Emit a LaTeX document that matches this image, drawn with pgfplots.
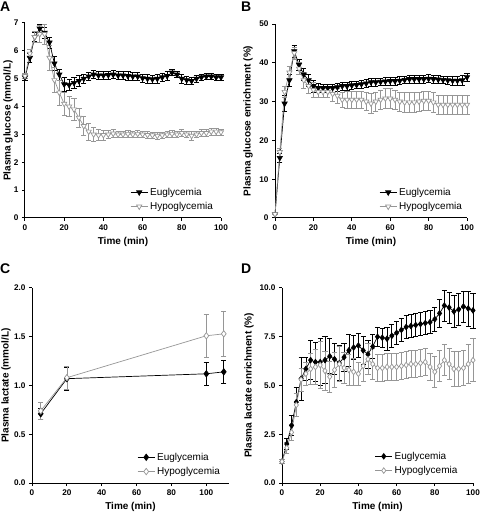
\documentclass[border=0pt]{standalone}
\usepackage{fontspec}
\setmainfont{Liberation Sans}
\usepackage{pgfplots}
\usepackage{pgfplotstable}
\pgfplotsset{compat=1.18}
\definecolor{hypogray}{RGB}{150,150,150}

\pgfplotstableread{
t v e
0 5.05 0.1
2.5 5.75 0.15
5 6.5 0.15
7.5 6.8 0.15
10 6.65 0.2
12.5 6.3 0.2
15 5.55 0.25
17.5 5.15 0.2
20 4.8 0.25
22.5 4.78 0.2
25 4.85 0.2
27.5 4.92 0.2
30 5.0 0.15
32.5 5.08 0.15
35 5.15 0.15
37.5 5.12 0.15
40 5.12 0.15
42.5 5.13 0.15
45 5.15 0.15
47.5 5.12 0.15
50 5.12 0.15
52.5 5.1 0.15
55 5.08 0.15
57.5 5.08 0.15
60 5.02 0.15
62.5 5.0 0.15
65 4.98 0.15
67.5 5.0 0.15
70 5.05 0.15
72.5 5.1 0.15
75 5.22 0.1
77.5 5.15 0.1
80 5.0 0.15
82.5 4.95 0.15
85 4.92 0.12
87.5 5.0 0.12
90 5.05 0.12
92.5 5.08 0.12
95 5.08 0.12
97.5 5.05 0.12
100 5.05 0.12
}\glcEu

\pgfplotstableread{
t v e
0 5.1 0.1
2.5 5.9 0.15
5 6.5 0.2
7.5 6.6 0.3
10 6.6 0.35
12.5 5.75 0.45
15 4.95 0.45
17.5 4.5 0.45
20 4.1 0.4
22.5 4.0 0.35
25 3.9 0.4
27.5 3.6 0.35
30 3.3 0.35
32.5 3.1 0.3
35 3.0 0.25
37.5 2.97 0.2
40 2.98 0.18
42.5 3.0 0.15
45 3.03 0.15
47.5 3.0 0.12
50 3.0 0.12
52.5 3.02 0.12
55 3.0 0.12
57.5 3.02 0.12
60 3.0 0.12
62.5 2.98 0.12
65 2.97 0.12
67.5 2.95 0.12
70 2.97 0.12
72.5 3.0 0.12
75 3.02 0.12
77.5 3.0 0.12
80 3.05 0.12
82.5 3.0 0.12
85 2.95 0.15
87.5 3.0 0.12
90 3.05 0.12
92.5 3.05 0.12
95 3.1 0.12
97.5 3.1 0.12
100 3.08 0.12
}\glcHypo

\pgfplotstableread{
t v e
0 1 0
2.5 15.5 1.2
5 29.5 2
7.5 35.5 1.5
10 43 1.5
12.5 39.5 1.5
15 37 1.5
17.5 35.5 1.5
20 34 1.5
22.5 33.5 1.2
25 33.5 1
27.5 33.5 1
30 33.5 1
32.5 33.7 1
35 34 1
37.5 34 1
40 34.2 1
42.5 34.3 1
45 34.5 1
47.5 34.7 1
50 35 1
52.5 35 1
55 35.1 1
57.5 35.2 1
60 35.3 1
62.5 35.3 1
65 35.4 1
67.5 35.6 1
70 35.8 1
72.5 35.8 1
75 35.8 1
77.5 35.8 1
80 35.9 1
82.5 35.8 1
85 35.7 1
87.5 35.6 1
90 35.5 1
92.5 35.4 1.2
95 35.4 1.2
97.5 35.5 1.2
100 36.3 1
}\enrEu

\pgfplotstableread{
t v e
0 1 0
2.5 17 1
5 32.5 1.5
7.5 37.5 1.5
10 42.5 1.5
12.5 38.5 1.5
15 35.5 2
17.5 34 2
20 33 2
22.5 32.5 1.5
25 32.5 1.5
27.5 32.5 1.5
30 32 2
32.5 31.5 2
35 30.5 2
37.5 30.5 2.2
40 30.5 2.2
42.5 30.5 2.2
45 30.5 2.2
47.5 30 2.3
50 29.5 2.5
52.5 30 2.5
55 30.5 2.5
57.5 30.8 2.5
60 30.8 2.5
62.5 30.5 2.5
65 30 2.5
67.5 29.8 2.5
70 29.8 2.5
72.5 29.8 2.5
75 30 2.5
77.5 30.2 2.5
80 30.2 2.5
82.5 29.8 2.5
85 29.2 2.5
87.5 29.2 2.5
90 29.2 2.5
92.5 29.2 2.5
95 29.2 2.5
97.5 29.2 2.5
100 29.2 2.5
}\enrHypo

\pgfplotstableread{
t v e
5 0.71 0.06
20 1.07 0.12
100 1.12 0.12
110 1.14 0.12
}\lacEu

\pgfplotstableread{
t v e
5 0.74 0.09
20 1.08 0.12
100 1.51 0.22
110 1.53 0.23
}\lacHypo

\pgfplotstableread{
t v e
0 1.1 0.1
2.5 2.0 0.3
5 2.95 0.5
7.5 4.15 0.75
10 5.35 1.1
12.5 5.85 0.6
15 6.3 1.0
17.5 6.2 1.0
20 6.2 1.2
22.5 6.3 1.2
25 6.5 0.9
27.5 6.35 0.8
30 6.15 0.9
32.5 6.45 0.7
35 6.8 0.8
37.5 6.95 0.6
40 7.05 0.6
42.5 6.8 0.7
45 6.6 0.7
47.5 7.0 0.6
50 7.5 0.5
52.5 7.45 0.5
55 7.4 0.6
57.5 7.55 0.6
60 7.7 0.6
62.5 7.85 0.6
65 8.0 0.6
67.5 8.05 0.6
70 8.1 0.6
72.5 8.15 0.6
75 8.2 0.6
77.5 8.25 0.6
80 8.4 0.6
82.5 8.7 0.7
85 9.1 0.8
87.5 9.0 0.8
90 8.8 0.8
92.5 8.9 0.8
95 9.05 0.8
97.5 8.95 0.9
100 8.85 0.9
}\lenEu

\pgfplotstableread{
t v e
0 1.1 0.1
2.5 1.8 0.3
5 2.6 0.4
7.5 4.0 0.6
10 5.3 0.6
12.5 5.6 0.6
15 5.85 0.8
17.5 5.95 0.9
20 6.05 1.2
22.5 5.75 1.0
25 5.45 0.8
27.5 5.8 0.9
30 6.1 0.9
32.5 5.9 0.8
35 5.8 0.8
37.5 5.7 0.7
40 5.6 0.6
42.5 6.0 0.8
45 6.35 0.8
47.5 6.1 0.8
50 5.9 0.7
52.5 5.9 0.7
55 5.95 0.7
57.5 5.95 0.7
60 5.95 0.7
62.5 6.0 0.7
65 6.05 0.7
67.5 6.1 0.7
70 6.1 0.7
72.5 6.15 0.7
75 6.2 0.7
77.5 5.95 0.7
80 5.7 0.8
82.5 6.0 0.8
85 6.3 0.8
87.5 6.1 0.8
90 5.85 0.9
92.5 5.85 0.9
95 5.9 0.9
97.5 6.1 1.0
100 6.3 1.1
}\lenHypo

\pgfplotsset{
  prism/.style={
    scale only axis, axis lines*=left, tick align=outside,
    axis line style={line width=1pt, black},
    major tick length=3pt, tick style={line width=1pt, black},
    ticklabel style={font=\fontsize{8.2}{9}\selectfont\bfseries},
    label style={font=\fontsize{10}{11}\selectfont\bfseries},
    /pgf/number format/assume math mode=true,
    legend style={draw=none, fill=none, font=\fontsize{10}{11}\selectfont, row sep=1.5pt, inner sep=0pt},
    legend cell align=left, clip=false, xmin=0,
    xlabel={Time (min)},
  },
  ylab/.style={ylabel style={at={([xshift=-#1]axis description cs:0,0.5)}, anchor=center}},
  eu/.style={black, line width=0.7pt, mark=#1, mark size=3pt, mark options={solid, fill=black, draw=black},
    error bars/y dir=both, error bars/y explicit,
    error bars/error bar style={line width=0.7pt, black},
    error bars/error mark options={rotate=90, mark size=2.6pt, line width=0.7pt, black}},
  hy/.style={hypogray, line width=0.7pt, mark=#1, mark size=3pt, mark options={solid, fill=white, draw=hypogray},
    error bars/y dir=both, error bars/y explicit,
    error bars/error bar style={line width=0.7pt, hypogray},
    error bars/error mark options={rotate=90, mark size=2.6pt, line width=0.7pt, hypogray}},
  down/.style={every mark/.append style={rotate=180}},
}

\begin{document}
\begin{tikzpicture}
\useasboundingbox (0pt,0pt) rectangle (481pt,514pt);

% Panel A
\begin{axis}[prism, at={(25pt,296pt)}, anchor=south west, width=196pt, height=195pt,
  xmax=100, ymin=0, ymax=7, xtick={0,20,...,100}, ytick={0,1,...,7},
  ylabel={Plasma glucose (mmol/L)}, ylab=17pt,
  legend style={at={(0.97,0.025)}, anchor=south east}]
\addplot[eu=triangle*, down] table[x=t,y=v,y error=e] {\glcEu};
\addlegendentry{Euglycemia}
\addplot[hy=triangle*, down] table[x=t,y=v,y error=e] {\glcHypo};
\addlegendentry{Hypoglycemia}
\end{axis}
\node[anchor=north west, inner sep=0pt, font=\fontsize{14}{14}\selectfont\bfseries] at (0pt,512pt) {A};

% Panel B
\begin{axis}[prism, at={(275pt,296pt)}, anchor=south west, width=192pt, height=194pt,
  xmax=100, ymin=0, ymax=50, xtick={0,20,...,100}, ytick={0,10,...,50},
  ylabel={Plasma glucose enrichment (\%)}, ylab=27pt,
  legend style={at={(0.985,0.025)}, anchor=south east}]
\addplot[eu=triangle*, down] table[x=t,y=v,y error=e] {\enrEu};
\addlegendentry{Euglycemia}
\addplot[hy=triangle*, down] table[x=t,y=v,y error=e] {\enrHypo};
\addlegendentry{Hypoglycemia}
\end{axis}
\node[anchor=north west, inner sep=0pt, font=\fontsize{14}{14}\selectfont\bfseries] at (241pt,512pt) {B};

% Panel C
\begin{axis}[prism, at={(32pt,31pt)}, anchor=south west, width=197pt, height=195pt,
  xmax=113, ymin=0, ymax=2, xtick={0,20,...,100}, ytick={0,0.5,...,2},
  yticklabel style={/pgf/number format/.cd, fixed, fixed zerofill, precision=1},
  ylabel={Plasma lactate (mmol/L)}, ylab=26pt,
  legend style={at={(0.965,0.025)}, anchor=south east}]
\addplot[eu=diamond*, mark size=3.2pt] table[x=t,y=v,y error=e] {\lacEu};
\addlegendentry{Euglycemia}
\addplot[hy=diamond*, mark size=3.2pt] table[x=t,y=v,y error=e] {\lacHypo};
\addlegendentry{Hypoglycemia}
\end{axis}
\node[anchor=north west, inner sep=0pt, font=\fontsize{14}{14}\selectfont\bfseries] at (0pt,250pt) {C};

% Panel D
\begin{axis}[prism, at={(282pt,31pt)}, anchor=south west, width=191pt, height=195pt,
  xmax=100, ymin=0, ymax=10, xtick={0,20,...,100}, ytick={0,2.5,...,10},
  yticklabel style={/pgf/number format/.cd, fixed, fixed zerofill, precision=1},
  ylabel={Plasma lactate enrichment (\%)}, ylab=33pt,
  legend style={at={(0.93,0.03)}, anchor=south east}]
\addplot[eu=diamond*, mark size=2.8pt] table[x=t,y=v,y error=e] {\lenEu};
\addlegendentry{Euglycemia}
\addplot[hy=diamond*, mark size=2.8pt] table[x=t,y=v,y error=e] {\lenHypo};
\addlegendentry{Hypoglycemia}
\end{axis}
\node[anchor=north west, inner sep=0pt, font=\fontsize{14}{14}\selectfont\bfseries] at (241pt,250pt) {D};
\end{tikzpicture}
\end{document}
